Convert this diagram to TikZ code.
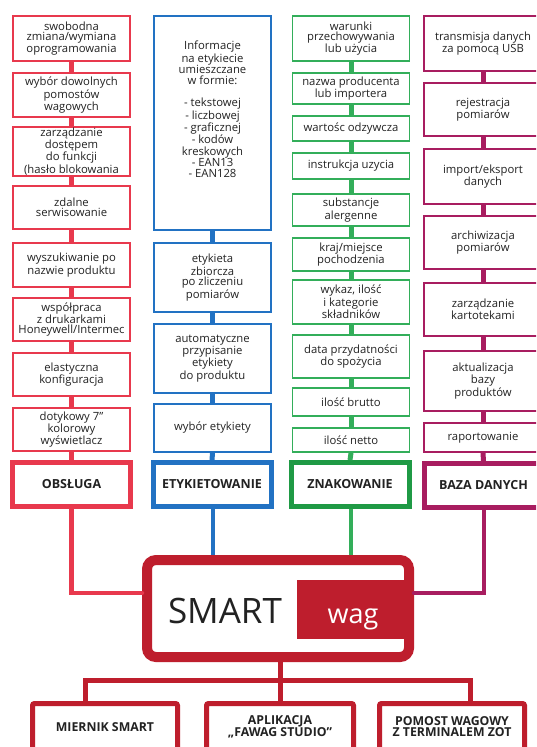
\documentclass[tikz,border=0pt]{standalone}
\usepackage{fontspec}
\setmainfont{Open Sans}
\definecolor{cred}{HTML}{E8394D}
\definecolor{cblue}{HTML}{2272C3}
\definecolor{cgreen}{HTML}{33AE5A}
\definecolor{cgreenh}{HTML}{1F9A45}
\definecolor{cmag}{HTML}{A81D60}
\definecolor{cdark}{HTML}{BE1E2D}
\definecolor{txt}{HTML}{222222}
\begin{document}
\begin{tikzpicture}[x=1pt,y=-1pt,
  itembox/.style={draw=#1, line width=1.8pt, fill=white, align=center, inner sep=1pt,
    font=\fontsize{11.3}{10.5}\selectfont, text=txt, minimum width=117pt},
  hdrbox/.style={draw=#1, line width=5pt, fill=white, align=center, inner sep=1pt,
    font=\fontsize{12.5}{12}\selectfont\bfseries, text=txt, minimum width=118pt, minimum height=44pt},
  link/.style={draw=#1, line width=5pt},
  wire/.style={draw=#1, line width=4.5pt},
  botbox/.style={draw=cdark, line width=5pt, fill=white, rounded corners=2pt, align=center, inner sep=1pt,
    font=\fontsize{12.3}{11}\selectfont\bfseries, text=txt, minimum height=47pt}
]
\useasboundingbox (0,0) rectangle (536,747);
\clip (0,0) rectangle (536,747);
\fill[white] (0,0) rectangle (536,747);

% ---------- column 1 (red)
\node[itembox=cred, minimum height=45pt] (a1) at (71.5,38.5) {swobodna\\zmiana/wymiana\\oprogramowania};
\node[itembox=cred, minimum height=44pt] (a2) at (71.5,95) {wybór dowolnych\\pomostów\\wagowych};
\node[itembox=cred, minimum height=45pt, font=\fontsize{11.3}{9.7}\selectfont] (a3) at (71.5,151.5) {zarządzanie\\dostępem\\do funkcji\\(hasło blokowania};
\node[itembox=cred, minimum height=43pt] (a4) at (71.5,207.5) {zdalne\\serwisowanie};
\node[itembox=cred, minimum height=44pt] (a5) at (71.5,265) {wyszukiwanie po\\nazwie produktu};
\node[itembox=cred, minimum height=43pt] (a6) at (71.5,319.5) {współpraca\\z drukarkami\\Honeywell/Intermec};
\node[itembox=cred, minimum height=43pt] (a7) at (71.5,374.5) {elastyczna\\konfiguracja};
\node[itembox=cred, minimum height=43pt] (a8) at (71.5,429.5) {dotykowy 7”\\kolorowy\\wyświetlacz};
\node[hdrbox=cred] (ah) at (71.5,484.5) {OBSŁUGA};

% ---------- column 2 (blue)
\node[itembox=cblue, minimum height=214pt, font=\fontsize{11.3}{11.2}\selectfont] (b1) at (212.5,123)
  {Informacje\\na etykiecie\\umieszczane\\w formie:\\[11.2pt]- tekstowej\\- liczbowej\\- graficznej\\- kodów\\kreskowych\\- EAN13\\- EAN128\\[16pt]\mbox{}};
\node[itembox=cblue, minimum height=69pt] (b2) at (212.5,277.5) {etykieta\\zbiorcza\\po zliczeniu\\pomiarów};
\node[itembox=cblue, minimum height=69pt] (b3) at (212.5,358.5) {automatyczne\\przypisanie\\etykiety\\do produktu};
\node[itembox=cblue, minimum height=48pt] (b4) at (212.5,428) {wybór etykiety};
\node[hdrbox=cblue] (bh) at (212,484.5) {ETYKIETOWANIE};

% ---------- column 3 (green)
\node[itembox=cgreen, minimum height=45pt] (c1) at (351,38.5) {warunki\\przechowywania\\lub użycia};
\node[itembox=cgreen, minimum height=31pt] (c2) at (351,88.5) {nazwa producenta\\lub importera};
\node[itembox=cgreen, minimum height=25pt] (c3) at (351,128.5) {wartośc odzywcza};
\node[itembox=cgreen, minimum height=26pt] (c4) at (351,166) {instrukcja uzycia};
\node[itembox=cgreen, minimum height=32pt] (c5) at (351,210) {substancje\\alergenne};
\node[itembox=cgreen, minimum height=33pt] (c6) at (351,254.5) {kraj/miejsce\\pochodzenia};
\node[itembox=cgreen, minimum height=44pt] (c7) at (351,302) {wykaz, ilość\\i kategorie\\składników};
\node[itembox=cgreen, minimum height=43pt] (c8) at (351,356.5) {data przydatności\\do spożycia};
\node[itembox=cgreen, minimum height=28pt] (c9) at (351,402) {ilość brutto};
\node[itembox=cgreen, minimum height=24pt] (c10) at (351,440) {ilość netto};
\node[hdrbox=cgreenh] (ch) at (350,484.5) {ZNAKOWANIE};

% ---------- column 4 (magenta)
\node[itembox=cmag, minimum height=55pt, minimum width=118pt] (d1) at (483,43.5) {transmisja danych\\za pomocą USB};
\node[itembox=cmag, minimum height=53pt, minimum width=118pt] (d2) at (483,109.5) {rejestracja\\pomiarów};
\node[itembox=cmag, minimum height=55pt, minimum width=118pt] (d3) at (483,176.5) {import/eksport\\danych};
\node[itembox=cmag, minimum height=53pt, minimum width=118pt] (d4) at (483,242.5) {archiwizacja\\pomiarów};
\node[itembox=cmag, minimum height=53pt, minimum width=118pt] (d5) at (483,309.5) {zarządzanie\\kartotekami};
\node[itembox=cmag, minimum height=60pt, minimum width=118pt] (d6) at (483,381) {aktualizacja\\bazy\\produktów};
\node[itembox=cmag, minimum height=29pt, minimum width=118pt] (d7) at (483,437.5) {raportowanie};
\node[hdrbox=cmag] (dh) at (483.5,485.5) {BAZA DANYCH};

% ---------- links inside columns
\foreach \u/\v in {a1/a2,a2/a3,a3/a4,a4/a5,a5/a6,a6/a7,a7/a8,a8/ah}
  \draw[link=cred] (\u.south) -- (\v.north);
\foreach \u/\v in {b1/b2,b2/b3,b3/b4,b4/bh}
  \draw[link=cblue] (\u.south) -- (\v.north);
\foreach \u/\v in {c1/c2,c2/c3,c3/c4,c4/c5,c5/c6,c6/c7,c7/c8,c8/c9,c9/c10}
  \draw[link=cgreen] (\u.south) -- (\v.north);
\draw[link=cgreen] (c10.south) -- (ch.north);
\foreach \u/\v in {d1/d2,d2/d3,d3/d4,d4/d5,d5/d6,d6/d7,d7/dh}
  \draw[link=cmag] (\u.south) -- (\v.north);

% ---------- SMART box
\node[draw=cdark, line width=10pt, rounded corners=9pt, fill=white,
      minimum width=262pt, minimum height=97pt] (smart) at (278,608.5) {};
\node[fill=cdark, minimum width=112pt, minimum height=59pt, inner sep=0pt,
      text=white, font=\fontsize{27}{27}\selectfont, text height=29pt, text depth=1pt] (wag) at (353,609.5) {wag};
\node[text=txt, font=\fontsize{35}{35}\selectfont, inner sep=0pt] (smarttxt) at (225,611) {SMART};

% ---------- wires from headers to SMART
\draw[wire=cred, line cap=round] (ah.south) |- (smart.west |- 0,593);
\draw[wire=cblue] (bh.south -| 213,0) -- (smart.north -| 213,0);
\draw[wire=cgreen] (ch.south -| 351,0) -- (smart.north -| 351,0);
\draw[wire=cmag, line cap=round] (dh.south -| 484,0) |- (smart.east |- 0,593);

% ---------- bottom boxes
\node[botbox, minimum width=145pt] (m1) at (105,727) {MIERNIK SMART};
\node[botbox, minimum width=147pt] (m2) at (280,727) {APLIKACJA\\„FAWAG STUDIO”};
\node[botbox, minimum width=145pt] (m3) at (452,727) {POMOST WAGOWY\\Z TERMINALEM ZOT};
\coordinate (bl) at (85,680);
\coordinate (br) at (470,680);
\draw[draw=cdark, line width=5pt] (smart.south -| m2.north) -- (m2.north);
\draw[draw=cdark, line width=5pt] (m1.north -| bl) -- (bl) -- (br) -- (m3.north -| br);
\end{tikzpicture}
\end{document}
